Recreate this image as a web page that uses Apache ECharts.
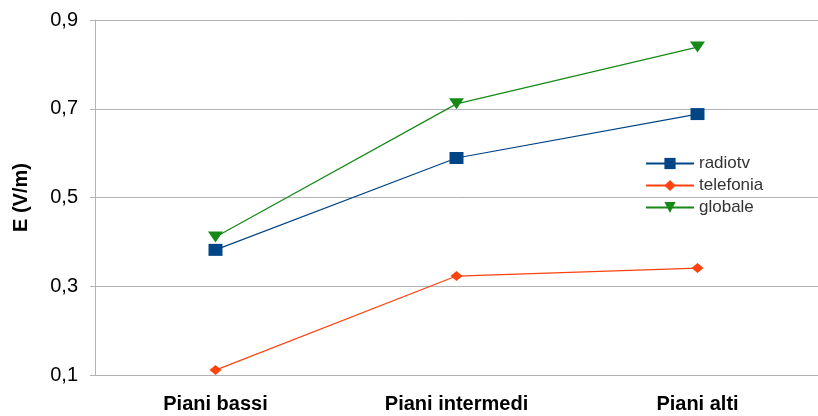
<!DOCTYPE html>
<html><head><meta charset="utf-8">
<script src="https://cdn.jsdelivr.net/npm/echarts@6/dist/echarts.min.js"></script>
<style>html,body{margin:0;padding:0;background:#fff}#c{width:818px;height:416px}</style>
</head><body><div id="c"></div>
<script>
const categories = ["Piani bassi", "Piani intermedi", "Piani alti"];
const radiotv = [0.382, 0.589, 0.688];
const telefonia = [0.111, 0.323, 0.341];
const globale = [0.411, 0.711, 0.839];
const yTicks = [0.1, 0.3, 0.5, 0.7, 0.9];

const chart = echarts.init(document.getElementById('c'));
chart.setOption({
  animation: false,
  backgroundColor: '#fff',
  textStyle: { fontFamily: 'Liberation Sans, Arial, sans-serif' },
  grid: { left: 95, top: 20, width: 736, height: 355, containLabel: false },
  legend: {
    orient: 'vertical', left: 640, top: 150, itemGap: 5,
    itemWidth: 48, itemHeight: 14,
    textStyle: { fontSize: 17, color: '#333', fontFamily: 'Liberation Sans, Arial, sans-serif' },
    data: ['radiotv', 'telefonia', 'globale']
  },
  xAxis: {
    type: 'category', data: categories, boundaryGap: true,
    axisLine: { lineStyle: { color: '#b3b3b3' } },
    axisTick: { show: false },
    axisLabel: { fontSize: 20, fontWeight: 'bold', color: '#000', margin: 19 }
  },
  yAxis: {
    type: 'value', min: 0.1, max: 0.9, interval: 0.2,
    name: 'E (V/m)', nameLocation: 'middle', nameGap: 64, nameRotate: 90,
    nameTextStyle: { fontSize: 20, fontWeight: 'bold', color: '#000' },
    axisLine: { show: true, lineStyle: { color: '#b3b3b3' } },
    axisTick: { show: true, length: 5, lineStyle: { color: '#b3b3b3' } },
    splitLine: { lineStyle: { color: '#b3b3b3' } },
    axisLabel: { fontSize: 20, color: '#000', margin: 17,
      formatter: v => v.toFixed(1).replace('.', ',') }
  },
  series: [
    { name: 'radiotv', type: 'line', data: radiotv, symbol: 'rect', symbolSize: [14, 12],
      color: '#004586', lineStyle: { width: 1.2 } },
    { name: 'telefonia', type: 'line', data: telefonia, symbol: 'diamond', symbolSize: [12, 10],
      color: '#ff420e', lineStyle: { width: 1.2 } },
    { name: 'globale', type: 'line', data: globale, symbol: 'triangle', symbolRotate: 180, symbolSize: [15, 11],
      color: '#168a16', lineStyle: { width: 1.2 } }
  ]
});
</script></body></html>
